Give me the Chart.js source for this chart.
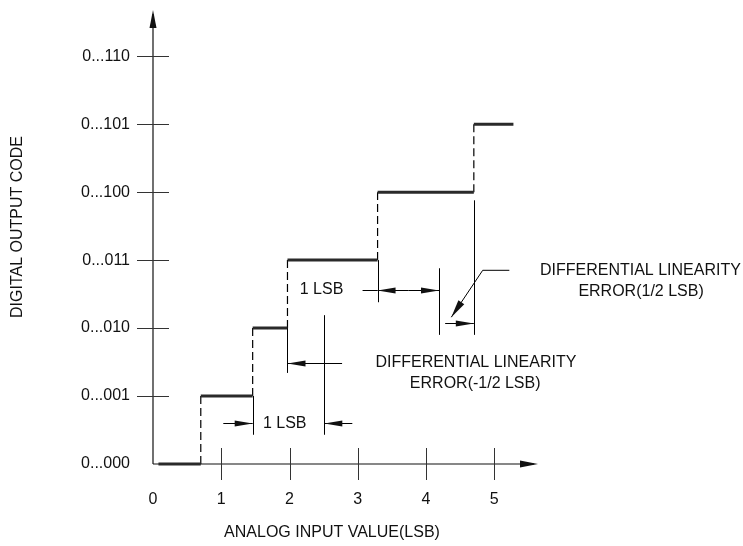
<!DOCTYPE html>
<html>
<head>
<meta charset="utf-8">
<script src="https://cdn.jsdelivr.net/npm/chart.js@4.4.1/dist/chart.umd.min.js"></script>
<style>
  html, body { margin: 0; padding: 0; background: #fff; }
  #wrap { width: 743px; height: 546px; position: relative; }
</style>
</head>
<body>
<div id="wrap"><canvas id="dnlChart"></canvas></div>
<script>
// axis labels
const codeLabels = ["0...000", "0...001", "0...010", "0...011", "0...100", "0...101", "0...110"];
const inputTicks = [0, 1, 2, 3, 4, 5];
const xTitle = "ANALOG INPUT VALUE(LSB)";
const yTitle = "DIGITAL OUTPUT CODE";

// input value where code k changes to k+1
const transitions = [0.7, 1.46, 1.97, 3.29, 4.7];
const firstStart = 0.08;
const lastEnd = 5.28;

// solid extension lines [x, yFrom, yTo]
const extLines = [
  [1.46, 1.0, 0.43],
  [2.51, 2.19, 0.43],
  [1.97, 2.0, 1.34],
  [3.29, 3.0, 2.38],
  [4.19, 2.88, 1.9],
  [4.7, 3.88, 1.9]
];
// plain dimension segments [y, xFrom, xTo]
const dimLines = [
  [2.56, 3.07, 3.29]
];
// dimension arrows [y, xFrom, xTo], head at xTo
const dimArrows = [
  [0.6, 1.03, 1.46],
  [0.6, 2.92, 2.51],
  [1.49, 2.77, 1.97],
  [2.56, 3.74, 3.29],
  [2.56, 3.74, 4.19],
  [2.07, 4.28, 4.7]
];
// leader line to the +1/2 LSB error
const leaderX = [5.22, 4.83, 4.37];
const leaderY = [2.85, 2.85, 2.16];

// notes [text, x, y, align]
const notes = [
  ["1 LSB", 1.61, 0.6, "left"],
  ["1 LSB", 2.15, 2.56, "left"],
  ["DIFFERENTIAL LINEARITY", 4.73, 1.49, "center"],
  ["ERROR(-1/2 LSB)", 4.72, 1.19, "center"],
  ["DIFFERENTIAL LINEARITY", 7.14, 2.85, "center"],
  ["ERROR(1/2 LSB)", 7.15, 2.54, "center"]
];

const FONT = '16px "Liberation Sans", Arial, sans-serif';

// build the staircase and the dashed risers
const edges = [firstStart].concat(transitions, [lastEnd]);
const stepPoints = [];
for (let k = 0; k < edges.length - 1; k++) {
  stepPoints.push({ x: edges[k], y: k }, { x: edges[k + 1], y: k }, { x: edges[k + 1], y: null });
}
const riserPoints = [];
transitions.forEach((t, k) => {
  riserPoints.push({ x: t, y: k }, { x: t, y: k + 1 }, { x: t, y: null });
});

function arrowHead(ctx, x1, y1, x2, y2, len, half) {
  const a = Math.atan2(y2 - y1, x2 - x1);
  const bx = x2 - len * Math.cos(a), by = y2 - len * Math.sin(a);
  ctx.beginPath();
  ctx.moveTo(x2, y2);
  ctx.lineTo(bx + half * Math.sin(a), by - half * Math.cos(a));
  ctx.lineTo(bx - half * Math.sin(a), by + half * Math.cos(a));
  ctx.closePath();
  ctx.fill();
}

function line(ctx, x1, y1, x2, y2) {
  ctx.beginPath();
  ctx.moveTo(x1, y1);
  ctx.lineTo(x2, y2);
  ctx.stroke();
}

const axesPlugin = {
  id: "axesPlugin",
  beforeDatasetsDraw(chart) {
    const ctx = chart.ctx;
    const xs = chart.scales.x, ys = chart.scales.y;
    const x0 = xs.getPixelForValue(0), y0 = ys.getPixelForValue(0);
    const area = chart.chartArea;
    ctx.save();
    ctx.strokeStyle = "#111";
    ctx.fillStyle = "#111";
    ctx.lineWidth = 1.2;
    // axes with arrows
    line(ctx, x0, y0, x0, area.top + 4);
    arrowHead(ctx, x0, y0, x0, area.top, 18, 3.5);
    line(ctx, x0, y0, area.right - 4, y0);
    arrowHead(ctx, x0, y0, area.right, y0, 18, 3.5);
    // ticks crossing the axes
    ctx.strokeStyle = "#333";
    ctx.lineWidth = 1;
    codeLabels.forEach((lab, i) => {
      if (i === 0) return;
      const py = Math.round(ys.getPixelForValue(i)) + 0.5;
      line(ctx, x0 - 16, py, x0 + 16, py);
    });
    inputTicks.forEach((v) => {
      if (v === 0) return;
      const px = Math.round(xs.getPixelForValue(v)) + 0.5;
      line(ctx, px, y0 - 16, px, y0 + 16);
    });
    // tick labels
    ctx.fillStyle = "#111";
    ctx.font = FONT;
    ctx.textAlign = "right";
    ctx.textBaseline = "middle";
    codeLabels.forEach((lab, i) => {
      ctx.fillText(lab, x0 - 23, ys.getPixelForValue(i));
    });
    ctx.textAlign = "center";
    inputTicks.forEach((v) => {
      ctx.fillText(String(v), xs.getPixelForValue(v), y0 + 36);
    });
    // titles
    ctx.fillText(xTitle, 332, 533);
    ctx.save();
    ctx.translate(18, 227);
    ctx.rotate(-Math.PI / 2);
    ctx.fillText(yTitle, 0, 0);
    ctx.restore();
    ctx.restore();
  },
  afterDatasetsDraw(chart) {
    const ctx = chart.ctx;
    const xs = chart.scales.x, ys = chart.scales.y;
    const X = (v) => xs.getPixelForValue(v), Y = (v) => ys.getPixelForValue(v);
    ctx.save();
    ctx.strokeStyle = "#000";
    ctx.fillStyle = "#111";
    ctx.lineWidth = 1;
    extLines.forEach(([x, a, b]) => {
      const px = Math.round(X(x)) + 0.5;
      line(ctx, px, Y(a), px, Y(b));
    });
    dimLines.forEach(([y, a, b]) => {
      const py = Math.round(Y(y)) + 0.5;
      line(ctx, X(a), py, X(b), py);
    });
    dimArrows.forEach(([y, a, b]) => {
      const py = Math.round(Y(y)) + 0.5;
      line(ctx, X(a), py, X(b), py);
      arrowHead(ctx, X(a), py, X(b), py, 18, 3);
    });
    ctx.beginPath();
    leaderX.forEach((x, i) => {
      if (i === 0) ctx.moveTo(X(x), Y(leaderY[i]));
      else ctx.lineTo(X(x), Y(leaderY[i]));
    });
    ctx.stroke();
    const n = leaderX.length;
    arrowHead(ctx, X(leaderX[n - 2]), Y(leaderY[n - 2]), X(leaderX[n - 1]), Y(leaderY[n - 1]), 18, 3.5);
    ctx.fillStyle = "#111";
    ctx.font = FONT;
    ctx.textBaseline = "middle";
    notes.forEach(([t, x, y, al]) => {
      ctx.textAlign = al;
      ctx.fillText(t, X(x), Y(y));
    });
    ctx.restore();
  }
};

new Chart(document.getElementById("dnlChart"), {
  type: "scatter",
  data: {
    datasets: [
      {
        label: "code",
        data: stepPoints,
        showLine: true,
        borderColor: "#2a2a2a",
        borderWidth: 3,
        pointRadius: 0,
        spanGaps: false,
        clip: false
      },
      {
        label: "transition",
        data: riserPoints,
        showLine: true,
        borderColor: "#000",
        borderWidth: 1.2,
        borderDash: [8, 4],
        pointRadius: 0,
        spanGaps: false,
        clip: false
      }
    ]
  },
  options: {
    animation: false,
    responsive: true,
    maintainAspectRatio: false,
    layout: { padding: { left: 153, right: 205, top: 10, bottom: 82 } },
    scales: {
      x: { type: "linear", min: 0, max: 5.64, display: false },
      y: { type: "linear", min: 0, max: 6.68, display: false }
    },
    plugins: { legend: { display: false }, tooltip: { enabled: false } }
  },
  plugins: [axesPlugin]
});
</script>
</body>
</html>
